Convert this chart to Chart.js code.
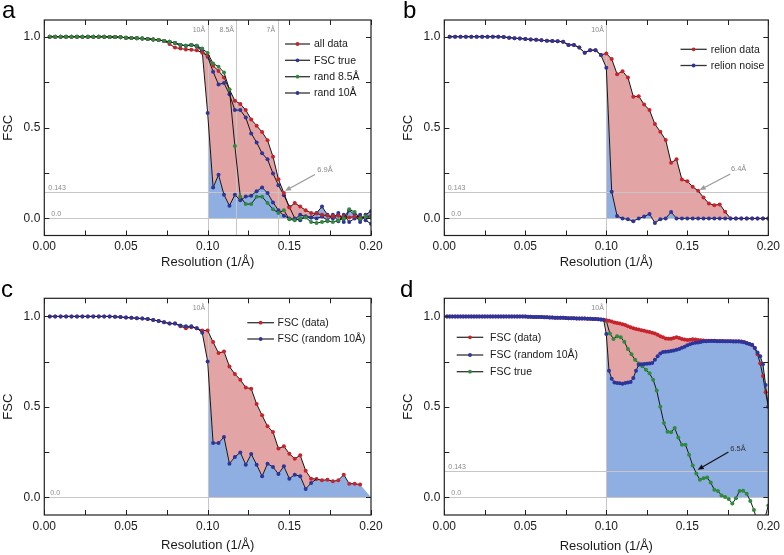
<!DOCTYPE html>
<html><head><meta charset="utf-8">
<script src="https://cdn.jsdelivr.net/npm/chart.js@4.4.1/dist/chart.umd.min.js"></script>
<style>
html,body{margin:0;padding:0;background:#fff;}
#wrap{position:relative;width:784px;height:555px;overflow:hidden;}
canvas{position:absolute;}
</style></head><body>
<div id="wrap">
<canvas id="ca" width="392" height="277" style="left:0;top:0"></canvas>
<canvas id="cb" width="392" height="277" style="left:392px;top:0"></canvas>
<canvas id="cc" width="392" height="277" style="left:0;top:278px"></canvas>
<canvas id="cd" width="392" height="277" style="left:392px;top:278px"></canvas>
</div>
<script>
// ---------- shared axis data ----------
const X_TICKS = [0, 0.05, 0.10, 0.15, 0.20];
const Y_TICKS = [0, 0.5, 1.0];
const X_MINOR = [0, 0.025, 0.05, 0.075, 0.1, 0.125, 0.15, 0.175, 0.2];
const Y_MINOR = [0, 0.25, 0.5, 0.75, 1.0];
const X_TITLE = 'Resolution (1/Å)';
const Y_TITLE = 'FSC';
const STEP_ABC = 1 / 300;    // shell spacing, panels a-c
const STEP_D = 1 / 600;      // shell spacing, panel d
const STEP_D_TRUE = 1 / 450; // shell spacing, panel d "FSC true"

// ---------- panel a ----------
const aPlateau = [1,1,1,1,1,1,1,1,1,1, 1,0.999,0.998,0.997,0.995,0.993,0.991,0.99,0.988,0.985, 0.982,0.977];
const aAllData = [0.96,0.94,0.935,0.93,0.928,0.925,0.912,
  0.895,0.84,0.812,0.776,0.71,0.648,0.63,0.596,0.545,0.51,0.475,0.43,0.34,0.215,0.14,
  0.06,0.085,0.065,0.045,0.03,0.027,0.02,0.015,0.012,0.015,0.01,0.005,0.01,0.005,0.01,0.015];
const aFscTrue = [0.972,0.965,0.955,0.95,0.955,0.95,0.925,
  0.89,0.807,0.737,0.745,0.684,0.596,0.596,0.555,0.468,0.418,0.358,0.325,0.247,0.183,0.128,0.064,
  0.0,-0.01,0.01,0.005,0.0,0.01,-0.01,0.02,-0.015,0.02,-0.02,0.0,0.02,-0.01,-0.03];
const aRand85 = [0.972,0.965,0.955,0.95,0.955,0.95,0.935,
  0.91,0.853,0.835,0.803,0.71,0.398,0.119,0.079,0.079,0.119,0.119,0.085,0.05,0.03,0.045,
  -0.005,-0.01,0.0,0.005,-0.02,-0.025,-0.02,-0.015,-0.02,-0.01,0.0,0.05,0.035,0.0,0.01,0.005];
const aRand10 = [0.972,0.965,0.955,0.95,0.955,0.945,0.92,
  0.58,0.17,0.24,0.13,0.07,0.13,0.1,0.12,0.125,0.15,0.17,0.14,0.088,0.045,0.015,
  0.0,-0.005,0.02,0.01,0.005,0.03,0.065,0.02,0.0,0.03,-0.02,0.045,0.02,-0.02,0.02,0.04];
const aLabels = ['all data', 'FSC true', 'rand 8.5Å', 'rand 10Å'];

// ---------- panel b ----------
const bPlateau = [1,1,1,1,1,1,1,1,1,1, 0.998,0.995,0.992,0.99,0.988,0.985,0.983,0.98,0.978,0.976, 0.975,0.972];
const bData = [0.955,0.955,0.94,0.912,0.926,0.926,0.9,
  0.908,0.877,0.794,0.81,0.776,0.67,0.673,0.627,0.596,0.519,0.477,0.431,0.306,0.325,0.214,0.205,0.174,0.152,0.115,0.082,0.073,0.077,0.037,0.0,
  0,0,0,0,0,0,0];
const bNoise = [0.955,0.955,0.94,0.912,0.926,0.926,0.899,
  0.829,0.147,0.013,0.0,-0.005,-0.015,0.0,0.01,0.025,-0.025,-0.005,0.0,0.035,
  0,0,0,0,0,0,0,0,0,0,0,0,0,0,0,0,0,0];
const bLabels = ['relion data', 'relion noise'];

// ---------- panel c ----------
const cPlateau = [1,1,1,1,1,1,1,1,1,1, 1,1,0.998,0.996,0.994,0.992,0.99,0.988,0.985,0.98, 0.975,0.968,0.96];
const cData = [0.96,0.945,0.935,0.94,0.935,0.922,
  0.922,0.858,0.797,0.806,0.723,0.681,0.65,0.607,0.6,0.515,0.453,0.392,0.361,0.269,0.282,0.241,0.213,0.232,0.147,
  0.103,0.101,0.094,0.097,0.088,0.094,0.125,0.075,0.075,0.07];
const cRandom = [0.96,0.95,0.945,0.945,0.935,0.91,
  0.751,0.30,0.30,0.333,0.186,0.223,0.248,0.18,0.239,0.18,0.116,0.186,0.167,0.129,0.171,0.103,0.125,0.116,0.046,0.079,0.101];
const cFillEnd = [{x: 0.2, y: 0}];
const cLabels = ['FSC (data)', 'FSC (random 10Å)'];

// ---------- panel d ----------
const dPlateau = [1,1,1,1,1,1,1,1,1,1, 1,1,1,1,1,1,1,1,1,1, 1,1,1,1,1,1,1,1,1,1,
  0.998,0.998,0.997,0.997,0.996,0.996,0.995,0.995,0.994,0.994,
  0.993,0.993,0.992,0.992,0.991,0.99,0.99,0.99,0.989,0.989,
  0.988,0.988,0.987,0.987,0.986,0.985,0.984,0.983,0.982];
const dData = [0.978,0.976,0.972,0.966,0.963,0.96,0.957,0.952,0.945,0.94,
  0.935,0.93,0.927,0.924,0.92,0.917,0.914,0.91,0.905,0.898,
  0.89,0.884,0.878,0.876,0.877,0.88,0.884,0.88,0.875,0.872,
  0.87,0.871,0.873,0.872,0.87,0.868,0.867,0.866,0.866,0.865,
  0.865,0.864,0.864,0.864,0.863,0.863,0.862,0.862,0.862,0.862,
  0.861,0.858,0.853,0.847,0.84,0.825,0.79,0.74,0.67,0.58, 0.5];
const dRandom = [0.902,0.70,0.655,0.635,0.632,0.631,0.628,0.632,0.635,0.637,
  0.66,0.7,0.733,0.736,0.737,0.738,0.74,0.742,0.76,0.78,
  0.795,0.803,0.805,0.806,0.809,0.812,0.815,0.82,0.826,0.832,
  0.84,0.846,0.851,0.854,0.856,0.858,0.862,0.863,0.864,0.864,
  0.864,0.863,0.863,0.863,0.862,0.862,0.862,0.861,0.861,0.861,
  0.86,0.857,0.852,0.848,0.843,0.825,0.8,0.779,0.735,0.62, 0.5];
const dTrueStart = 45;
const dTrue = [0.975, 0.905,0.875,0.89,0.885,0.86,0.82,0.79,0.76,0.74,
  0.725,0.705,0.685,0.65,0.59,0.5,0.41,0.362,0.36,0.383,
  0.33,0.29,0.29,0.235,0.175,0.132,0.097,0.105,0.11,0.081,
  0.042,0.035,0.01,0.002,-0.01,-0.035,-0.006,0.035,0.036,0.02,
  -0.02,-0.07,-0.14,-0.17,-0.12,-0.045];
const dLabels = ['FSC (data)', 'FSC (random 10Å)', 'FSC true'];

// ---------- styles ----------
const RED = '#c8222b', BLUE = '#2b359c', GREEN = '#2f8a3c';
const PINK = 'rgb(226,164,165)', SKY = 'rgb(143,175,226)';
const LINE = '#151515', REF = '#c6c6c6', REFTXT = '#8a8a8a', TXT = '#1a1a1a';
const FONT = '"Liberation Sans", Arial, Helvetica, sans-serif';
const PR = 2;
Chart.defaults.font.family = FONT;

function toPts(values, startK, step) {
  return values.map((v, i) => ({x: (startK + i) * step, y: v}));
}
function fromK(pts, k0, step) { return pts.filter(p => p.x >= k0 * step - 1e-9); }

function lineDs(data, color, extra) {
  return Object.assign({data, borderColor: LINE, borderWidth: 1, pointRadius: PR,
    pointBackgroundColor: color, pointBorderWidth: 0, pointHoverRadius: 0,
    fill: false, tension: 0}, extra || {});
}
function blueFillDs(data) {
  return {data, borderWidth: 0, borderColor: 'rgba(0,0,0,0)', pointRadius: 0, pointHoverRadius: 0,
    tension: 0, fill: {target: 'origin', above: SKY, below: 'rgba(0,0,0,0)'}};
}
function pinkFill(target) { return {fill: {target, above: PINK, below: 'rgba(0,0,0,0)'}}; }

const framePlugin = {
  id: 'frame',
  beforeDatasetsDraw(chart, args, o) {
    const {ctx, chartArea: a, scales: {x, y}} = chart;
    ctx.save();
    ctx.strokeStyle = REF; ctx.lineWidth = 1;
    ctx.beginPath();
    (o.refX || []).forEach(r => { const px = Math.round(x.getPixelForValue(r.v)) + 0.5; ctx.moveTo(px, a.top); ctx.lineTo(px, a.bottom); });
    (o.refY || []).forEach(r => { const py = Math.round(y.getPixelForValue(r.v)) + 0.5; ctx.moveTo(a.left, py); ctx.lineTo(a.right, py); });
    ctx.stroke();
    ctx.fillStyle = REFTXT; ctx.font = '7px ' + FONT; ctx.textBaseline = 'alphabetic';
    ctx.textAlign = 'right';
    (o.refX || []).forEach(r => { ctx.fillText(r.t, x.getPixelForValue(r.v) - 2.5, a.top + 12); });
    ctx.textAlign = 'left';
    (o.refY || []).forEach(r => { ctx.fillText(r.t, a.left + r.dx, y.getPixelForValue(r.v) - 2.5); });
    ctx.restore();
  },
  afterDraw(chart, args, o) {
    const {ctx, chartArea: a, scales: {x, y}} = chart;
    ctx.save();
    // frame
    ctx.strokeStyle = '#202020'; ctx.lineWidth = 1.2;
    ctx.strokeRect(a.left, a.top, a.right - a.left, a.bottom - a.top);
    // inward ticks
    ctx.lineWidth = 1; ctx.beginPath();
    const TL = 5;
    X_MINOR.forEach(v => { const px = Math.round(x.getPixelForValue(v)) + 0.5;
      ctx.moveTo(px, a.bottom); ctx.lineTo(px, a.bottom - TL); ctx.moveTo(px, a.top); ctx.lineTo(px, a.top + TL); });
    Y_MINOR.forEach(v => { const py = Math.round(y.getPixelForValue(v)) + 0.5;
      ctx.moveTo(a.left, py); ctx.lineTo(a.left + TL, py); ctx.moveTo(a.right, py); ctx.lineTo(a.right - TL, py); });
    ctx.stroke();
    // legend
    const L = o.legend;
    ctx.font = '10.5px ' + FONT; ctx.textBaseline = 'middle'; ctx.textAlign = 'left';
    L.items.forEach((it, i) => {
      const yy = L.rows[i];
      ctx.strokeStyle = '#333'; ctx.lineWidth = 1.3;
      ctx.beginPath(); ctx.moveTo(L.x0, yy); ctx.lineTo(L.x1, yy); ctx.stroke();
      ctx.fillStyle = it.c; ctx.beginPath(); ctx.arc((L.x0 + L.x1) / 2, yy, 1.9, 0, Math.PI * 2); ctx.fill();
      ctx.fillStyle = TXT; ctx.fillText(it.t, L.tx, yy + 0.5);
    });
    // arrow annotation
    if (o.arrow) {
      const A = o.arrow;
      const x0 = x.getPixelForValue(A.from[0]), y0 = y.getPixelForValue(A.from[1]);
      const x1 = x.getPixelForValue(A.to[0]), y1 = y.getPixelForValue(A.to[1]);
      ctx.strokeStyle = A.c; ctx.fillStyle = A.c; ctx.lineWidth = 1.2;
      const ang = Math.atan2(y1 - y0, x1 - x0), hl = 6, hw = 2.6;
      const bx = x1 - hl * Math.cos(ang), by = y1 - hl * Math.sin(ang);
      ctx.beginPath(); ctx.moveTo(x0, y0); ctx.lineTo(bx, by); ctx.stroke();
      ctx.beginPath(); ctx.moveTo(x1, y1);
      ctx.lineTo(bx + hw * Math.sin(ang), by - hw * Math.cos(ang));
      ctx.lineTo(bx - hw * Math.sin(ang), by + hw * Math.cos(ang));
      ctx.closePath(); ctx.fill();
      ctx.fillStyle = A.tc; ctx.font = '7.5px ' + FONT; ctx.textBaseline = 'alphabetic'; ctx.textAlign = 'left';
      ctx.fillText(A.t, x.getPixelForValue(A.text[0]), y.getPixelForValue(A.text[1]));
    }
    // panel letter
    ctx.fillStyle = '#000'; ctx.font = '24px ' + FONT; ctx.textBaseline = 'alphabetic'; ctx.textAlign = 'left';
    ctx.fillText(o.letter.t, o.letter.x, o.letter.y);
    ctx.restore();
  }
};

function makeChart(id, cfg) {
  const W = 392, H = 277;
  return new Chart(document.getElementById(id), {
    type: 'line',
    data: {datasets: cfg.datasets},
    options: {
      responsive: false, animation: false, events: [], devicePixelRatio: 1,
      layout: {padding: {left: 0, top: cfg.area[1], right: W - cfg.area[2], bottom: 0}},
      scales: {
        x: {type: 'linear', min: 0, max: 0.2,
          grid: {display: false, drawTicks: false}, border: {display: false},
          afterFit: s => { s.height = H - cfg.area[3]; },
          afterBuildTicks: s => { s.ticks = X_TICKS.map(v => ({value: v})); },
          ticks: {callback: v => Number(v).toFixed(2), padding: 4, color: TXT, font: {size: 12}, maxRotation: 0, autoSkip: false},
          title: {display: true, text: X_TITLE, color: TXT, font: {size: 13}, padding: {top: 0, bottom: cfg.xtp}}},
        y: {type: 'linear', min: cfg.y[0], max: cfg.y[1],
          grid: {display: false, drawTicks: false}, border: {display: false},
          afterFit: s => { s.width = cfg.area[0]; },
          afterBuildTicks: s => { s.ticks = Y_TICKS.map(v => ({value: v})); },
          ticks: {callback: v => Number(v).toFixed(1), padding: 4, color: TXT, font: {size: 12}, autoSkip: false},
          title: {display: true, text: Y_TITLE, color: TXT, font: {size: 13}, padding: {top: cfg.ytp, bottom: 0}}}
      },
      plugins: {legend: {display: false}, tooltip: {enabled: false},
        filler: {drawTime: 'beforeDatasetsDraw', propagate: false}, frame: cfg.frame}
    },
    plugins: [framePlugin]
  });
}

// ---------- panel a ----------
const aRed = toPts(aPlateau.concat(aAllData), 1, STEP_ABC);
const aTrue = toPts(aPlateau.concat(aFscTrue), 1, STEP_ABC);
const aGreen = toPts(aPlateau.concat(aRand85), 1, STEP_ABC);
const aBlue = toPts(aPlateau.concat(aRand10), 1, STEP_ABC);
makeChart('ca', {
  area: [44.3, 20, 371, 235.5], y: [-0.094, 1.092], xtp: 7, ytp: 0.7,
  datasets: [
    lineDs(aGreen, GREEN),
    lineDs(aRed, RED, pinkFill(3)),
    lineDs(aTrue, BLUE),
    lineDs(aBlue, BLUE),
    blueFillDs(fromK(aBlue, 30, STEP_ABC))
  ],
  frame: {
    refX: [{v: 0.1, t: '10Å'}, {v: 1 / 8.5, t: '8.5Å'}, {v: 1 / 7, t: '7Å'}],
    refY: [{v: 0.143, t: '0.143', dx: 4}, {v: 0, t: '0.0', dx: 7}],
    legend: {x0: 285, x1: 310, tx: 314, rows: [44, 60.3, 76.7, 93],
      items: [{t: aLabels[0], c: RED}, {t: aLabels[1], c: BLUE}, {t: aLabels[2], c: GREEN}, {t: aLabels[3], c: BLUE}]},
    arrow: {from: [0.1657, 0.242], to: [0.1474, 0.152], text: [0.1671, 0.256], t: '6.9Å', c: '#999', tc: '#8a8a8a'},
    letter: {t: 'a', x: 2, y: 18.3}
  }
});

// ---------- panel b ----------
const bRed = toPts(bPlateau.concat(bData), 1, STEP_ABC);
const bBlue = toPts(bPlateau.concat(bNoise), 1, STEP_ABC);
makeChart('cb', {
  area: [52.3, 20, 378, 235.5], y: [-0.094, 1.092], xtp: 6.7, ytp: 8.2,
  datasets: [
    lineDs(bBlue, BLUE),
    lineDs(bRed, RED, pinkFill(0)),
    blueFillDs(fromK(bBlue, 30, STEP_ABC))
  ],
  frame: {
    refX: [{v: 0.1, t: '10Å'}],
    refY: [{v: 0.143, t: '0.143', dx: 3.5}, {v: 0, t: '0.0', dx: 7}],
    legend: {x0: 288.5, x1: 314.7, tx: 318.7, rows: [49.3, 65.5],
      items: [{t: bLabels[0], c: RED}, {t: bLabels[1], c: BLUE}]},
    arrow: {from: [0.1765, 0.244], to: [0.1576, 0.156], text: [0.1769, 0.263], t: '6.4Å', c: '#999', tc: '#8a8a8a'},
    letter: {t: 'b', x: 11, y: 18.3}
  }
});

// ---------- panel c ----------
const cRed = toPts(cPlateau.concat(cData), 1, STEP_ABC);
const cBlue = toPts(cPlateau.concat(cRandom), 1, STEP_ABC);
const cBlueLast = cBlue.length - 1;
const cFill = fromK(cBlue, 30, STEP_ABC).concat(cRed.slice(cBlue.length), cFillEnd);
makeChart('cc', {
  area: [44.3, 20.3, 371, 237], y: [-0.098, 1.1], xtp: 2, ytp: 0.5,
  datasets: [
    lineDs(cBlue, BLUE, {pointRadius: ctx => ctx.dataIndex === cBlueLast ? 0 : PR}),
    lineDs(cRed, RED, pinkFill(0)),
    blueFillDs(cFill)
  ],
  frame: {
    refX: [{v: 0.1, t: '10Å'}],
    refY: [{v: 0, t: '0.0', dx: 6}],
    legend: {x0: 247.3, x1: 274, tx: 277.5, rows: [44.7, 61],
      items: [{t: cLabels[0], c: RED}, {t: cLabels[1], c: BLUE}]},
    letter: {t: 'c', x: 1, y: 18.7}
  }
});

// ---------- panel d ----------
const dRed = toPts(dPlateau.concat(dData), 1, STEP_D);
const dBlue = toPts(dPlateau.concat(dRandom), 1, STEP_D);
const dGreen = toPts(dTrue, dTrueStart, STEP_D_TRUE);
makeChart('cd', {
  area: [52.3, 20.3, 378, 237], y: [-0.098, 1.1], xtp: 1, ytp: 8.5,
  datasets: [
    lineDs(dBlue, BLUE),
    lineDs(dRed, RED, pinkFill(0)),
    lineDs(dGreen, GREEN),
    blueFillDs(fromK(dBlue, 60, STEP_D))
  ],
  frame: {
    refX: [{v: 0.1, t: '10Å'}],
    refY: [{v: 0.143, t: '0.143', dx: 4}, {v: 0, t: '0.0', dx: 7}],
    legend: {x0: 64.7, x1: 91.3, tx: 98, rows: [59.3, 77, 93.7],
      items: [{t: dLabels[0], c: RED}, {t: dLabels[1], c: BLUE}, {t: dLabels[2], c: GREEN}]},
    arrow: {from: [0.1754, 0.25], to: [0.1564, 0.152], text: [0.1765, 0.254], t: '6.5Å', c: '#111', tc: '#333'},
    letter: {t: 'd', x: 8, y: 18.7}
  }
});
</script>
</body></html>
